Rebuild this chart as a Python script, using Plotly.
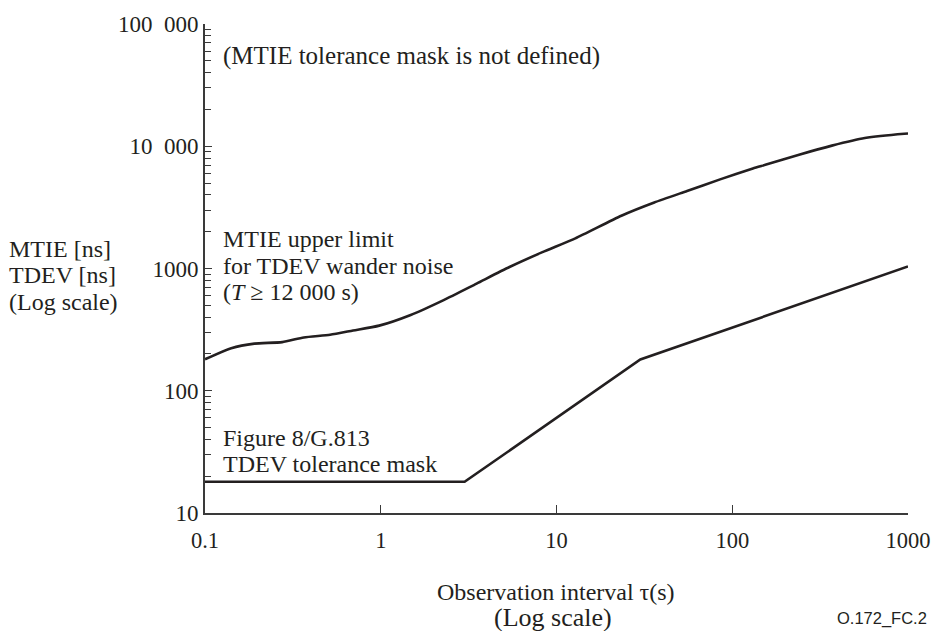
import plotly.graph_objects as go

# Observation interval tau (s) and MTIE upper limit for TDEV wander noise (ns)
mtie_tau = [0.1, 0.141, 0.191, 0.275, 0.365, 0.515, 0.696, 0.98, 1.48, 2.28, 3.51,
            5.40, 8.32, 12.8, 23.4, 36, 55.3, 85.3, 131, 156, 240, 369, 568, 953, 1000]
mtie_ns = [181, 223, 243, 250, 273, 287, 311, 341, 417, 552, 753,
           1028, 1361, 1766, 2703, 3467, 4305, 5357, 6577, 7079, 8530, 10120, 11670, 12650, 12700]

# Figure 8/G.813 TDEV tolerance mask (ns)
tdev_tau = [0.1, 3, 30, 100, 300, 1000]
tdev_ns = [18, 18, 180, 329, 570, 1040]

y_tickvals = [10, 100, 1000, 10000, 100000]
y_ticktext = ["10", "100", "1000", "10\u2002000", "100\u2002000"]
x_tickvals = [0.1, 1, 10, 100, 1000]
x_ticktext = ["0.1", "1", "10", "100", "1000"]

LINE = "#231f20"
AXIS = "#3a3a3a"
SERIF = "Liberation Serif, Times New Roman, serif"

# plot area in pixels (used to place free text)
L, R, T, B = 205, 915, 20, 513


def px(x):
    return (x - L) / (R - L)


def py(y):
    return (B - y) / (B - T)


fig = go.Figure()
fig.add_trace(go.Scatter(x=mtie_tau, y=mtie_ns, mode="lines",
                         line=dict(color=LINE, width=2.6, shape="spline", smoothing=0.6),
                         hoverinfo="skip"))
fig.add_trace(go.Scatter(x=tdev_tau, y=tdev_ns, mode="lines",
                         line=dict(color=LINE, width=2.6),
                         hoverinfo="skip"))

fig.update_layout(
    width=943, height=631,
    margin=dict(l=L, r=943 - R, t=T, b=631 - B),
    paper_bgcolor="white", plot_bgcolor="white",
    showlegend=False,
    font=dict(family=SERIF, size=24, color="#231f20"),
    xaxis=dict(
        type="log", range=[-1, 3],
        tickmode="array", tickvals=x_tickvals, ticktext=x_ticktext,
        tickfont=dict(size=22.5),
        ticks="", showgrid=False, zeroline=False,
        showline=True, linecolor=AXIS, linewidth=1.6,
        ticklabelstandoff=6,
        minor=dict(tickmode="array", tickvals=[1, 10, 100], ticks="inside",
                   ticklen=8, tickwidth=1.4, tickcolor=AXIS, showgrid=False),
    ),
    yaxis=dict(
        type="log", range=[1, 5],
        tickmode="array", tickvals=y_tickvals, ticktext=y_ticktext,
        tickfont=dict(size=23),
        ticks="inside", ticklen=7, tickwidth=1.2, tickcolor=AXIS,
        showgrid=False, zeroline=False,
        showline=True, linecolor=AXIS, linewidth=1.6,
        ticklabelstandoff=0,
        minor=dict(dtick="D1", ticks="inside", ticklen=6, tickwidth=1.0,
                   tickcolor=AXIS, showgrid=False),
    ),
)


def text(s, x, y, anchor="left", size=24, family=SERIF):
    fig.add_annotation(text=s, x=px(x), y=py(y), xref="paper", yref="paper",
                       xanchor=anchor, yanchor="middle", showarrow=False,
                       font=dict(family=family, size=size, color="#231f20"))


text("(MTIE tolerance mask is not defined)", 221, 52, size=25)

text("MTIE upper limit", 221, 237)
text("for TDEV wander noise", 221, 264)
text("(<i>T</i> ≥ 12 000 s)", 221, 290)

text("Figure 8/G.813", 221, 437)
text("TDEV tolerance mask", 221, 464)

text("MTIE [ns]", 5, 247)
text("TDEV [ns]", 5, 273)
text("(Log scale)", 5, 300)

text("Observation interval τ(s)", 559, 593, anchor="center")
text("(Log scale)", 556, 618, anchor="center", size=26)

text("O.172_FC.2", 936, 619, anchor="right", size=16.5,
     family="Liberation Sans, Arial, sans-serif")

fig.write_html("out.html")
